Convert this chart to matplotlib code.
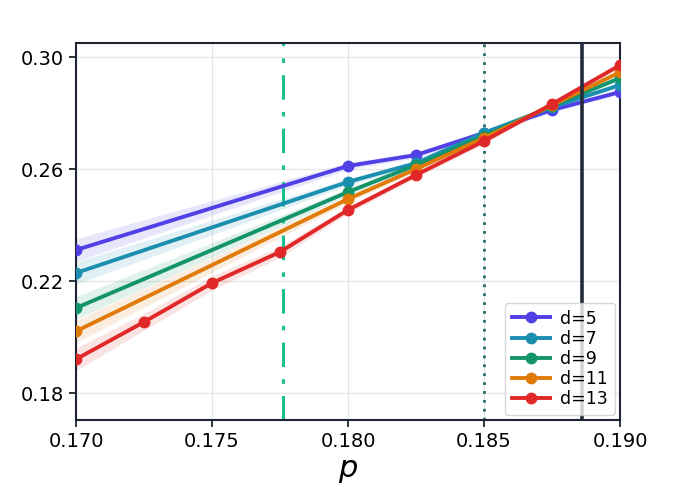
import numpy as np
import matplotlib
matplotlib.use('Agg')
import matplotlib.pyplot as plt

# p values per code distance
p_5 = [0.170, 0.180, 0.1825, 0.185, 0.1875, 0.190]
p_13 = [0.170, 0.1725, 0.175, 0.1775, 0.180, 0.1825, 0.185, 0.1875, 0.190]

y_5 = [0.2311, 0.2611, 0.2650, 0.2729, 0.2811, 0.2875]
y_7 = [0.2229, 0.2554, 0.2621, 0.2729, 0.2821, 0.2900]
y_9 = [0.2104, 0.2518, 0.2614, 0.2718, 0.2825, 0.2925]
y_11 = [0.2021, 0.2493, 0.2600, 0.2711, 0.2828, 0.2946]
y_13 = [0.1921, 0.2054, 0.2193, 0.2304, 0.2454, 0.2579, 0.2700, 0.2832, 0.2971]

err_6 = [0.0040, 0.0012, 0.0010, 0.0009, 0.0008, 0.0008]
err_9 = [0.0040, 0.0030, 0.0025, 0.0020, 0.0012, 0.0010, 0.0009, 0.0008, 0.0008]

labels = ['d=5', 'd=7', 'd=9', 'd=11', 'd=13']
colors = ['#5040e6', '#1a8fb0', '#13946a', '#e07b0a', '#e02828']

p_th_low = 0.1776
p_th_mid = 0.185
p_th_high = 0.1886

series = [(p_5, y_5, err_6), (p_5, y_7, err_6), (p_5, y_9, err_6),
          (p_5, y_11, err_6), (p_13, y_13, err_9)]

fig = plt.figure(figsize=(6.8, 4.87), dpi=100)
ax = fig.add_axes([0.1118, 0.1376, 0.8, 0.7741])

for (px, py, pe), lab, c in zip(series, labels, colors):
    px = np.array(px)
    py = np.array(py)
    pe = np.array(pe)
    ax.fill_between(px, py - pe, py + pe, color=c, alpha=0.13, lw=0)
    ax.plot(px, py, '-o', color=c, lw=2.8, ms=7.5, label=lab, zorder=3)

ax.axvline(p_th_low, color='#1dbf8a', ls=(0, (8, 4, 1.5, 4)), lw=2.2, zorder=2)
ax.axvline(p_th_mid, color='#1f6f6a', ls=(0, (1, 2.2)), lw=2.0, zorder=2)
ax.axvline(p_th_high, color='#252a3a', ls='-', lw=2.6, zorder=4)

ax.set_xlim(0.170, 0.190)
ax.set_ylim(0.1704, 0.305)
ax.set_xticks([0.170, 0.175, 0.180, 0.185, 0.190])
ax.set_xticklabels(['0.170', '0.175', '0.180', '0.185', '0.190'])
ax.set_yticks([0.18, 0.22, 0.26, 0.30])
ax.set_yticklabels(['0.18', '0.22', '0.26', '0.30'])
ax.tick_params(labelsize=14, color='#1f2433', width=1.3, length=5)
ax.grid(True, color='#e6e6e6', lw=0.9)
ax.set_axisbelow(True)
for s in ax.spines.values():
    s.set_color('#1f2433')
    s.set_linewidth(1.5)

ax.set_xlabel('$p$', fontsize=22, labelpad=4)
ax.legend(loc='lower right', fontsize=12.5, handlelength=2.2, labelspacing=0.12,
          borderpad=0.4, handletextpad=0.6, borderaxespad=0.3)

plt.savefig('out.png', dpi=100)
